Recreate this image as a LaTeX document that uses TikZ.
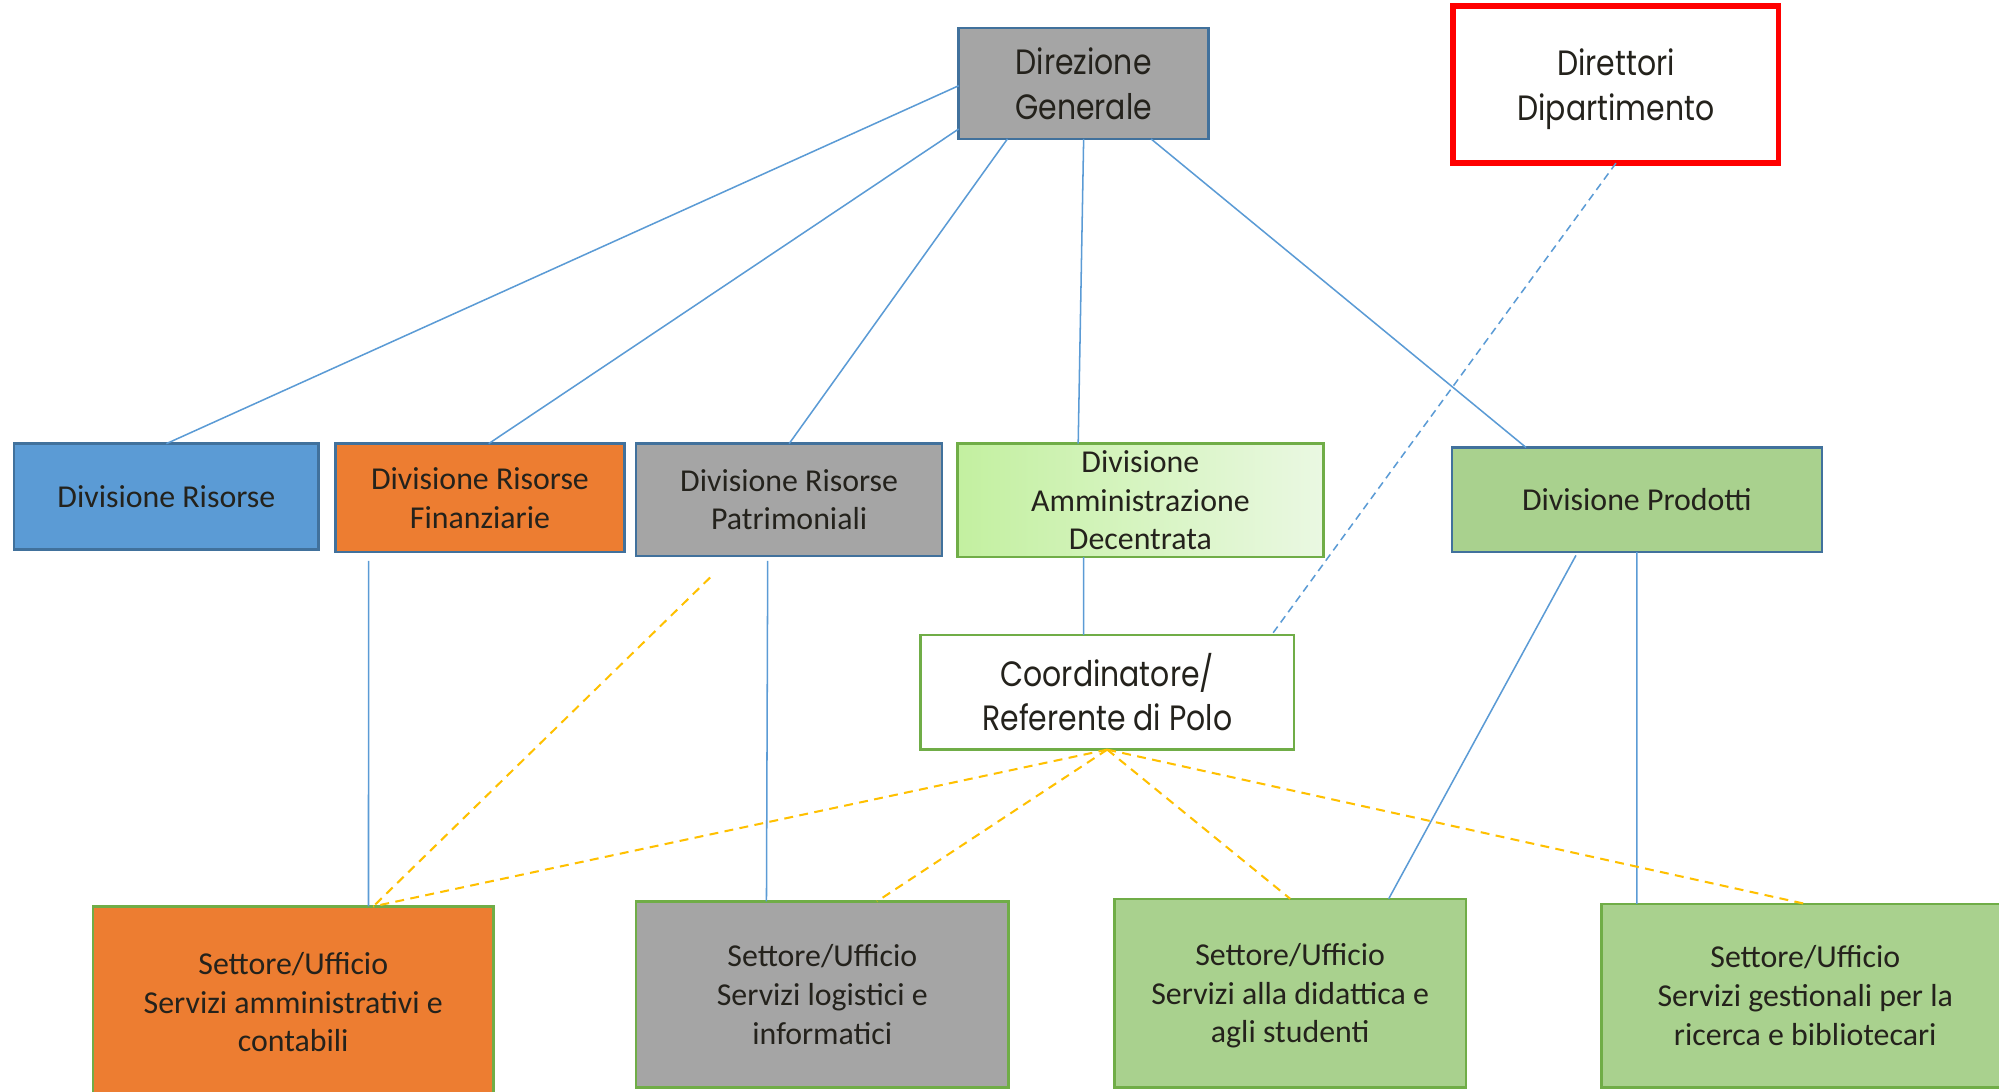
\documentclass[tikz,border=0pt]{standalone}
\usepackage{fontspec}
\setmainfont{Carlito}
\newfontfamily\geo[FakeStretch=0.85]{Poppins}
\usetikzlibrary{calc}
\definecolor{cblue}{HTML}{5B9BD5}
\definecolor{bblue}{HTML}{41719C}
\definecolor{corange}{HTML}{ED7D31}
\definecolor{cgray}{HTML}{A5A5A5}
\definecolor{cgreen}{HTML}{A9D18E}
\definecolor{bgreen}{HTML}{70AD47}
\definecolor{gleft}{HTML}{C3F0A0}
\definecolor{gright}{HTML}{EAF8E2}
\definecolor{cyellow}{HTML}{FFC000}
\definecolor{txt}{HTML}{24221C}
\definecolor{cred}{HTML}{FF0000}
\tikzset{
  box/.style={draw, rectangle, inner sep=0pt, outer sep=0pt, align=center, text=txt,
    font=\fontsize{12.5}{15.2}\selectfont},
  bluebox/.style={box, draw=bblue, line width=1pt},
  greenbox/.style={box, draw=bgreen, line width=1pt},
  geobox/.style={font=\geo\fontsize{13.8}{17.5}\selectfont},
  link/.style={draw=cblue, line width=0.6pt},
  dlink/.style={draw=cblue, line width=0.6pt, dash pattern=on 3pt off 2pt},
  ylink/.style={draw=cyellow, line width=0.8pt, dash pattern=on 3.5pt off 2.5pt},
}
\begin{document}
\begin{tikzpicture}[x=0.5pt,y=-0.5pt]
\useasboundingbox (0,0) rectangle (1568,856);

% top level
\node[bluebox, geobox, fill=cgray, minimum width=98pt, minimum height=43.5pt] (dg) at (850,65.5) {Direzione\\Generale};
\node[box, geobox, draw=cred, line width=2.3pt, fill=white, minimum width=127.5pt, minimum height=61.5pt, text depth=0pt] (dd) at (1267.5,66.5) {Direttori\\Dipartimento};

% divisions
\node[bluebox, fill=cblue, minimum width=119.5pt, minimum height=41.5pt] (dr) at (130.5,389.5) {Divisione Risorse};
\node[bluebox, fill=corange, minimum width=113.5pt, minimum height=42.5pt] (drf) at (376.5,390.5) {Divisione Risorse\\Finanziarie};
\node[bluebox, fill=cgray, minimum width=120pt, minimum height=44pt] (drp) at (619,392) {Divisione Risorse\\Patrimoniali};
\node[greenbox, left color=gleft, right color=gright, minimum width=143.5pt, minimum height=44.5pt] (dad) at (894.5,392.5) {Divisione\\Amministrazione\\Decentrata};
\node[bluebox, fill=cgreen, minimum width=145pt, minimum height=41pt] (dp) at (1284,392) {Divisione Prodotti};

% coordinator
\node[greenbox, geobox, fill=white, minimum width=146.5pt, minimum height=45pt] (co) at (868.5,543) {Coordinatore/\\Referente di Polo};

% sectors
\node[greenbox, fill=corange, minimum width=157pt, minimum height=75pt] (s1) at (230,786) {Settore/Ufficio\\Servizi amministrativi e\\contabili};
\node[greenbox, fill=cgray, minimum width=146pt, minimum height=73pt] (s2) at (645,780) {Settore/Ufficio\\Servizi logistici e\\informatici};
\node[greenbox, fill=cgreen, minimum width=138pt, minimum height=74pt, text depth=0pt] (s3) at (1012,779) {Settore/Ufficio\\Servizi alla didattica e\\agli studenti};
\node[greenbox, fill=cgreen, minimum width=160pt, minimum height=72pt] (s4) at (1416,781) {Settore/Ufficio\\Servizi gestionali per la\\ricerca e bibliotecari};

% solid blue connectors
\draw[link] ($(dg.north west)!0.52!(dg.south west)$) -- (dr.north);
\draw[link] ($(dg.north west)!0.91!(dg.south west)$) -- ($(drf.north west)!0.53!(drf.north east)$);
\draw[link] ($(dg.south west)!0.195!(dg.south east)$) -- ($(drp.north west)!0.50!(drp.north east)$);
\draw[link] (dg.south) -- ($(dad.north west)!0.33!(dad.north east)$);
\draw[link] ($(dg.south west)!0.77!(dg.south east)$) -- ($(dp.north west)!0.20!(dp.north east)$);
\draw[link] ($(dad.south west)!0.345!(dad.south east)$) -- ($(co.north west)!0.437!(co.north east)$);
\draw[link, shorten <=3.5pt] ($(drf.south west)!0.115!(drf.south east)$) -- ($(s1.north west)!0.688!(s1.north east)$);
\draw[link, shorten <=2pt] ($(drp.south west)!0.43!(drp.south east)$) -- ($(s2.north west)!0.35!(s2.north east)$);
\draw[link, shorten <=1.5pt] ($(dp.south west)!0.34!(dp.south east)$) -- ($(s3.north west)!0.78!(s3.north east)$);
\draw[link] (dp.south) -- ($(s4.north west)!0.0875!(s4.north east)$);

% dashed blue
\draw[dlink] (dd.south) -- ($(co.north west)!0.94!(co.north east)$);

% yellow dashed
\coordinate (yfree) at (557,453);
\coordinate (s1top) at ($(s1.north west)!0.70!(s1.north east)$);
\draw[ylink] (yfree) -- (s1top);
\draw[ylink] (co.south) -- (s1top);
\draw[ylink] (co.south) -- ($(s2.north west)!0.647!(s2.north east)$);
\draw[ylink] (co.south) -- (s3.north);
\draw[ylink] (co.south) -- (s4.north);
\end{tikzpicture}
\end{document}
